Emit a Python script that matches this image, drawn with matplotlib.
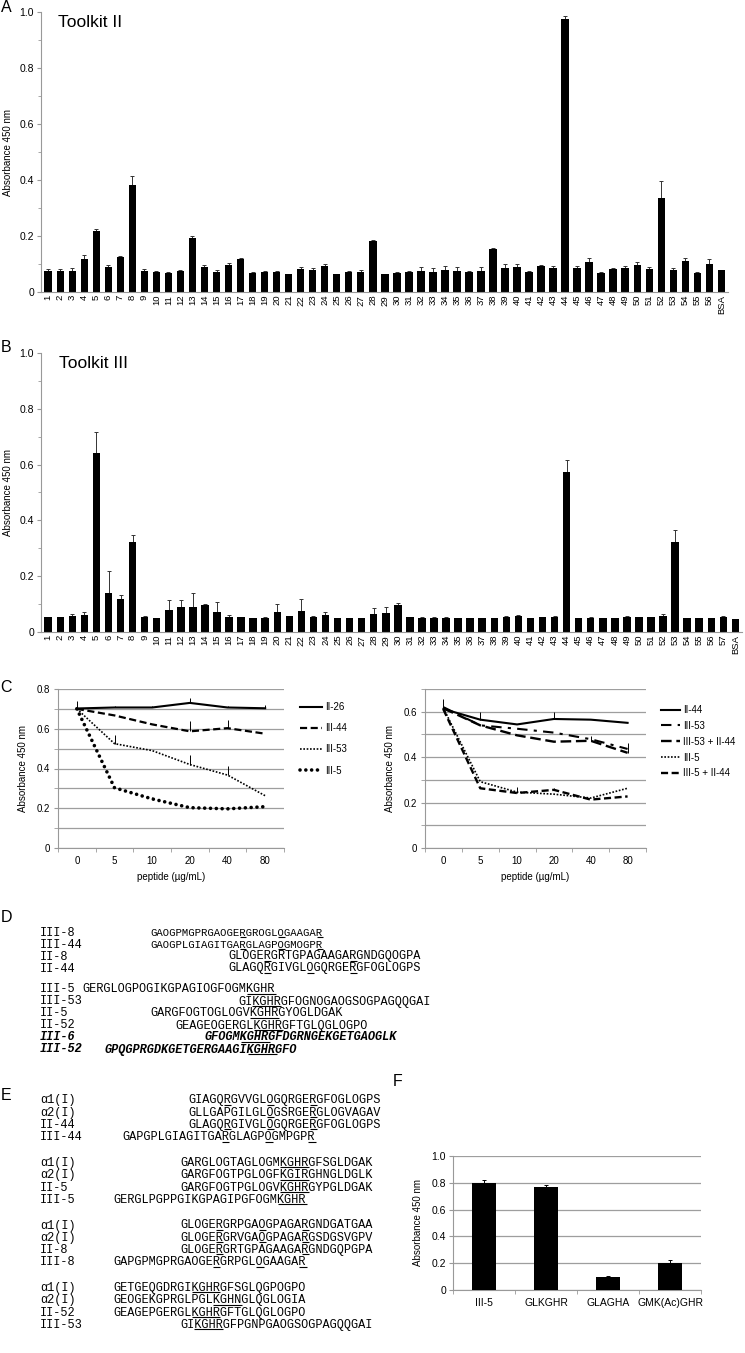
import matplotlib
matplotlib.use("Agg")
import matplotlib.pyplot as plt
import numpy as np
from matplotlib.ticker import FixedLocator

W, H = 745, 1353
plt.rcParams["font.family"] = ["Liberation Sans", "DejaVu Sans"]

# ---- panel A: Toolkit II screen ----
a_labels = [str(i) for i in range(1, 57)] + ["BSA"]
a_vals = [0.075, 0.076, 0.075, 0.119, 0.219, 0.088, 0.124, 0.383, 0.075, 0.073,
          0.069, 0.076, 0.192, 0.091, 0.070, 0.097, 0.117, 0.069, 0.072, 0.073,
          0.063, 0.083, 0.080, 0.093, 0.063, 0.073, 0.073, 0.181, 0.064, 0.068,
          0.073, 0.076, 0.073, 0.080, 0.076, 0.073, 0.076, 0.154, 0.086, 0.089,
          0.072, 0.094, 0.086, 0.976, 0.087, 0.106, 0.068, 0.083, 0.087, 0.095,
          0.083, 0.334, 0.080, 0.111, 0.068, 0.100, 0.077]
a_errs = [0.007, 0.005, 0.009, 0.012, 0.005, 0.007, 0.003, 0.030, 0.006, 0.003,
          0.002, 0.004, 0.007, 0.005, 0.007, 0.006, 0.006, 0.003, 0.004, 0.003,
          0.003, 0.008, 0.005, 0.006, 0.002, 0.003, 0.004, 0.003, 0.002, 0.002,
          0.003, 0.012, 0.011, 0.013, 0.014, 0.002, 0.012, 0.002, 0.015, 0.012,
          0.002, 0.002, 0.008, 0.010, 0.006, 0.017, 0.003, 0.004, 0.006, 0.013,
          0.007, 0.063, 0.005, 0.010, 0.002, 0.017, 0.0]

# ---- panel B: Toolkit III screen ----
b_labels = [str(i) for i in range(1, 58)] + ["BSA"]
b_vals = [0.052, 0.052, 0.056, 0.061, 0.643, 0.141, 0.118, 0.321, 0.052, 0.049,
          0.079, 0.089, 0.090, 0.095, 0.073, 0.054, 0.054, 0.050, 0.051, 0.070,
          0.056, 0.077, 0.054, 0.061, 0.050, 0.049, 0.050, 0.063, 0.068, 0.096,
          0.054, 0.051, 0.051, 0.051, 0.050, 0.049, 0.050, 0.050, 0.054, 0.059,
          0.050, 0.052, 0.055, 0.573, 0.050, 0.051, 0.050, 0.049, 0.054, 0.052,
          0.052, 0.059, 0.321, 0.050, 0.050, 0.049, 0.054, 0.048]
b_errs = [0.002, 0.002, 0.010, 0.011, 0.075, 0.077, 0.016, 0.026, 0.004, 0.001,
          0.037, 0.027, 0.050, 0.007, 0.036, 0.007, 0.001, 0.001, 0.001, 0.032,
          0.003, 0.040, 0.004, 0.011, 0.001, 0.001, 0.001, 0.024, 0.021, 0.009,
          0.001, 0.001, 0.001, 0.001, 0.001, 0.001, 0.001, 0.001, 0.002, 0.002,
          0.001, 0.001, 0.002, 0.043, 0.001, 0.001, 0.001, 0.001, 0.002, 0.001,
          0.001, 0.007, 0.044, 0.001, 0.001, 0.001, 0.002, 0.0]

# ---- panel C: inhibition curves ----
conc_labels = ["0", "5", "10", "20", "40", "80"]
c1_ii26 = [0.702, 0.707, 0.707, 0.730, 0.707, 0.703]
c1_ii26_err = [0.040, 0.005, 0.005, 0.025, 0.005, 0.015]
c1_iii44 = [0.700, 0.667, 0.622, 0.587, 0.603, 0.575]
c1_iii44_err = [0.0, 0.0, 0.0, 0.050, 0.040, 0.0]
c1_iii53 = [0.700, 0.525, 0.490, 0.420, 0.367, 0.263]
c1_iii53_err = [0.0, 0.042, 0.0, 0.047, 0.047, 0.0]
c1_iii5 = [0.700, 0.303, 0.247, 0.203, 0.197, 0.208]
c1_iii5_err = [0.0, 0.0, 0.012, 0.0, 0.010, 0.0]

c2_ii44 = [0.612, 0.565, 0.544, 0.568, 0.565, 0.551]
c2_ii44_err = [0.045, 0.035, 0.0, 0.030, 0.0, 0.0]
c2_iii53 = [0.620, 0.540, 0.525, 0.508, 0.479, 0.436]
c2_iii53_ii44 = [0.615, 0.540, 0.496, 0.468, 0.472, 0.419]
c2_iii53_ii44_err = [0.0, 0.0, 0.0, 0.0, 0.020, 0.045]
c2_iii5 = [0.615, 0.292, 0.246, 0.237, 0.220, 0.263]
c2_iii5_ii44 = [0.610, 0.263, 0.242, 0.256, 0.213, 0.227]
c2_iii5_ii44_err = [0.0, 0.0, 0.025, 0.010, 0.0, 0.0]

# ---- panel F: short peptides ----
f_labels = ["III-5", "GLKGHR", "GLAGHA", "GMK(Ac)GHR"]
f_vals = [0.80, 0.77, 0.095, 0.20]
f_errs = [0.020, 0.015, 0.012, 0.022]

# ---- panel D / E: sequence alignments (underlined residue indices) ----
d_names = ["III-8", "III-44", "II-8", "II-44",
           "III-5", "III-53", "II-5", "II-52", "III-6", "III-52"]
d_seqs = ["GAOGPMGPRGAOGERGROGLOGAAGAR", "GAOGPLGIAGITGARGLAGPOGMOGPR",
          "GLOGERGRTGPAGAAGARGNDGQOGPA", "GLAGQRGIVGLOGQRGERGFOGLOGPS",
          "GERGLOGPOGIKGPAGIOGFOGMKGHR", "GIKGHRGFOGNOGAOGSOGPAGQQGAI",
          "GARGFOGTOGLOGVKGHRGYOGLDGAK", "GEAGEOGERGLKGHRGFTGLQGLOGPO",
          "GFOGMKGHRGFDGRNGEKGETGAOGLK", "GPQGPRGDKGETGERGAAGIKGHRGFO"]
d_under = [[14, 20, 26], [14, 20, 26], [5, 17], [5, 11, 17],
           [23, 24, 25, 26], [2, 3, 4, 5], [14, 15, 16, 17], [11, 12, 13, 14],
           [5, 6, 7, 8], [20, 21, 22, 23]]

e_names = ["α1(I)", "α2(I)", "II-44", "III-44",
           "α1(I)", "α2(I)", "II-5", "III-5",
           "α1(I)", "α2(I)", "II-8", "III-8",
           "α1(I)", "α2(I)", "II-52", "III-53"]
e_seqs = ["GIAGQRGVVGLOGQRGERGFOGLOGPS", "GLLGAPGILGLOGSRGERGLOGVAGAV",
          "GLAGQRGIVGLOGQRGERGFOGLOGPS", "GAPGPLGIAGITGARGLAGPOGMPGPR",
          "GARGLOGTAGLOGMKGHRGFSGLDGAK", "GARGFOGTPGLOGFKGIRGHNGLDGLK",
          "GARGFOGTPGLOGVKGHRGYPGLDGAK", "GERGLPGPPGIKGPAGIPGFOGMKGHR",
          "GLOGERGRPGAOGPAGARGNDGATGAA", "GLOGERGRVGAOGPAGARGSDGSVGPV",
          "GLOGERGRTGPAGAAGARGNDGQPGPA", "GAPGPMGPRGAOGERGRPGLOGAAGAR",
          "GETGEQGDRGIKGHRGFSGLQGPOGPO", "GEOGEKGPRGLPGLKGHNGLQGLOGIA",
          "GEAGEPGERGLKGHRGFTGLQGLOGPO", "GIKGHRGFPGNPGAOGSOGPAGQQGAI"]
e_under = [[5, 11, 17], [11, 17], [5, 11, 17], [14, 20, 26],
           [14, 15, 16, 17], [14, 15, 16, 17], [14, 15, 16, 17], [23, 24, 25, 26],
           [5, 11, 17], [5, 11, 17], [5, 17], [14, 20, 26],
           [11, 12, 13, 14], [14, 15, 16, 17], [11, 12, 13, 14], [2, 3, 4, 5]]


def px_box(x0, y0, x1, y1):
    return [x0 / W, 1 - y1 / H, (x1 - x0) / W, (y1 - y0) / H]


def grey_spines(ax, keep=("left", "bottom")):
    for side, sp in ax.spines.items():
        if side in keep:
            sp.set_color("0.6")
            sp.set_linewidth(0.8)
        else:
            sp.set_visible(False)


def toolkit_panel(ax, labels, vals, errs, title):
    x = np.arange(len(vals))
    ax.bar(x, vals, width=0.62, color="black", zorder=2)
    ax.errorbar(x, vals, yerr=[np.zeros(len(errs)), errs], fmt="none",
                ecolor="0.2", elinewidth=0.7, capsize=1.2, capthick=0.7, zorder=1)
    ax.set_xlim(-0.6, len(vals) - 0.45)
    ax.set_ylim(0, 1.0)
    ax.set_yticks([0, 0.2, 0.4, 0.6, 0.8, 1.0])
    ax.set_yticklabels(["0", "0.2", "0.4", "0.6", "0.8", "1.0"])
    ax.yaxis.set_minor_locator(FixedLocator([0.1, 0.3, 0.5, 0.7, 0.9]))
    ax.set_xticks(x)
    ax.set_xticklabels(labels, rotation=90, fontsize=6.8)
    ax.tick_params(axis="x", length=0, pad=2)
    ax.tick_params(axis="y", which="major", length=3, color="0.6", labelsize=7.5, pad=2)
    ax.tick_params(axis="y", which="minor", length=2, color="0.6")
    ax.set_ylabel("Absorbance 450 nm", fontsize=7, labelpad=5)
    grey_spines(ax)
    ax.text(0.025, 0.962, title, transform=ax.transAxes, fontsize=12.5, va="center")


def curve_panel(ax, ymax):
    ax.set_xlim(-0.5, 5.5)
    ax.set_ylim(0, ymax)
    ax.set_yticks(np.arange(0, ymax + 0.01, 0.2))
    ax.set_yticklabels(["0" if v == 0 else f"{v:.1f}" for v in np.arange(0, ymax + 0.01, 0.2)])
    ax.set_yticks(np.arange(0, ymax + 0.01, 0.1), minor=True)
    ax.grid(axis="y", which="both", color="0.62", lw=0.9, zorder=0)
    ax.set_xticks(range(6))
    ax.set_xticklabels(conc_labels)
    ax.set_xticks(np.arange(-0.5, 6, 1.0), minor=True)
    ax.tick_params(axis="x", which="major", length=0, labelsize=7, pad=6)
    ax.tick_params(axis="x", which="minor", length=3, color="0.6")
    ax.tick_params(axis="y", which="both", length=3, color="0.6", labelsize=7, pad=3)
    ax.set_xlabel("peptide (µg/mL)", fontsize=7, labelpad=4)
    ax.set_ylabel("Absorbance 450 nm", fontsize=7, labelpad=6)
    grey_spines(ax)


def add_err(ax, vals, errs):
    ax.errorbar(range(6), vals, yerr=[np.zeros(6), errs], fmt="none",
                ecolor="black", elinewidth=0.7, capsize=0, zorder=4)


fig = plt.figure(figsize=(W / 100, H / 100), dpi=100)

# A
ax_a = fig.add_axes(px_box(41, 12, 728, 292))
toolkit_panel(ax_a, a_labels, a_vals, a_errs, "Toolkit II")

# B
ax_b = fig.add_axes(px_box(41, 353, 742, 632))
toolkit_panel(ax_b, b_labels, b_vals, b_errs, "Toolkit III")

# C left
xc = range(6)
ax_c1 = fig.add_axes(px_box(58, 689, 284, 848))
curve_panel(ax_c1, 0.8)
l1, = ax_c1.plot(xc, c1_ii26, color="black", lw=1.5, label="II-26", zorder=3)
l2, = ax_c1.plot(xc, c1_iii44, color="black", lw=1.6, ls=(0, (3.2, 1.6)), label="III-44", zorder=3)
l3, = ax_c1.plot(xc, c1_iii53, color="black", lw=1.2, ls=(0, (1, 1)), label="III-53", zorder=3)
l4, = ax_c1.plot(xc, c1_iii5, color="black", lw=2.6, ls=(0, (0.01, 1.6)),
                 dash_capstyle="round", label="III-5", zorder=3)
for v, e in [(c1_ii26, c1_ii26_err), (c1_iii44, c1_iii44_err),
             (c1_iii53, c1_iii53_err), (c1_iii5, c1_iii5_err)]:
    add_err(ax_c1, v, e)
ax_c1.legend(handles=[l1, l2, l3, l4], loc="upper left", bbox_to_anchor=(300 / W, 1 - 702 / H),
             bbox_transform=fig.transFigure, frameon=False, fontsize=7, handlelength=2.3,
             handletextpad=0.3, labelspacing=1.15, borderpad=0, borderaxespad=0)

# C right
ax_c2 = fig.add_axes(px_box(425, 689, 646, 848))
curve_panel(ax_c2, 0.7)
m1, = ax_c2.plot(xc, c2_ii44, color="black", lw=1.5, label="II-44", zorder=3)
m2, = ax_c2.plot(xc, c2_iii53, color="black", lw=1.5, ls=(0, (5, 3, 1.5, 3)), label="III-53", zorder=3)
m3, = ax_c2.plot(xc, c2_iii53_ii44, color="black", lw=1.7, ls=(0, (4.5, 2)), label="III-53 + II-44", zorder=3)
m4, = ax_c2.plot(xc, c2_iii5, color="black", lw=1.2, ls=(0, (1, 1)), label="III-5", zorder=3)
m5, = ax_c2.plot(xc, c2_iii5_ii44, color="black", lw=1.7, ls=(0, (3, 1.5)), label="III-5 + II-44", zorder=3)
add_err(ax_c2, c2_ii44, c2_ii44_err)
add_err(ax_c2, c2_iii53_ii44, c2_iii53_ii44_err)
add_err(ax_c2, c2_iii5_ii44, c2_iii5_ii44_err)
ax_c2.legend(handles=[m1, m2, m3, m4, m5], loc="upper left", bbox_to_anchor=(661 / W, 1 - 705 / H),
             bbox_transform=fig.transFigure, frameon=False, fontsize=7, handlelength=2.0,
             handletextpad=0.3, labelspacing=0.6, borderpad=0, borderaxespad=0)

# F
ax_f = fig.add_axes(px_box(453, 1156, 701, 1290))
xf = np.arange(len(f_vals))
ax_f.bar(xf, f_vals, width=0.4, color="black", zorder=3)
ax_f.errorbar(xf, f_vals, yerr=[np.zeros(len(f_errs)), f_errs], fmt="none", ecolor="black",
              elinewidth=0.7, capsize=1.5, capthick=0.7, zorder=2)
ax_f.set_xlim(-0.5, 3.5)
ax_f.set_ylim(0, 1.0)
ax_f.set_yticks([0, 0.2, 0.4, 0.6, 0.8, 1.0])
ax_f.set_yticklabels(["0", "0.2", "0.4", "0.6", "0.8", "1.0"])
ax_f.grid(axis="y", color="0.62", lw=0.9, zorder=0)
ax_f.set_xticks(xf)
ax_f.set_xticklabels(f_labels)
ax_f.set_xticks(np.arange(-0.5, 4, 1.0), minor=True)
ax_f.tick_params(axis="x", which="major", length=0, labelsize=7.5, pad=6)
ax_f.tick_params(axis="x", which="minor", length=3, color="0.6")
ax_f.tick_params(axis="y", length=3, color="0.6", labelsize=7.5, pad=2)
ax_f.set_ylabel("Absorbance 450 nm", fontsize=7, labelpad=6)
grey_spines(ax_f)

# text overlay in pixel coordinates
ax_t = fig.add_axes([0, 0, 1, 1])
ax_t.set_xlim(0, W)
ax_t.set_ylim(H, 0)
ax_t.axis("off")

for letter, lx, ly in [("A", 6, 8), ("B", 6, 347), ("C", 6, 688), ("D", 6, 918),
                       ("E", 6, 1095), ("F", 398, 1082)]:
    ax_t.text(lx, ly, letter, fontsize=11.5, ha="center", va="center")

MONO = "Liberation Mono"


def seq_row(name, seq, under, name_x, seq_x, y, fs, italic=False):
    style = "italic" if italic else "normal"
    weight = "bold" if italic else "normal"
    # baseline alignment so the underline sits just under the letters
    ax_t.text(name_x, y + 3.5, name, family=MONO, fontsize=8.6, va="baseline",
              style=style, weight=weight)
    ax_t.text(seq_x, y + 3.5, seq, family=MONO, fontsize=fs, va="baseline",
              style=style, weight=weight)
    cw = 0.6 * fs * 100 / 72
    spans = []
    for i in under:
        if spans and spans[-1][1] == i - 1:
            spans[-1][1] = i
        else:
            spans.append([i, i])
    for s0, s1 in spans:
        ax_t.plot([seq_x + s0 * cw, seq_x + (s1 + 1) * cw], [y + 4.8, y + 4.8],
                  color="black", lw=0.8, solid_capstyle="butt")


# D layout
d_x = [150, 150, 228, 228, 82, 238, 150, 175, 205, 105]
d_y = [932, 944, 956, 968, 989, 1001, 1013, 1025, 1037, 1049]
d_fs = [7.7, 7.7, 8.6, 8.6, 8.6, 8.6, 8.6, 8.6, 8.6, 8.6]
for k in range(len(d_names)):
    seq_row(d_names[k], d_seqs[k], d_under[k], 40, d_x[k], d_y[k], d_fs[k], italic=k >= 8)

# E layout
e_x = [188, 188, 188, 122, 180, 180, 180, 113, 180, 180, 180, 113, 113, 113, 113, 180]
for k in range(len(e_names)):
    g, r = divmod(k, 4)
    y = 1100 + g * 62.5 + r * 12.3
    seq_row(e_names[k], e_seqs[k], e_under[k], 40, e_x[k], y, 8.6)

fig.savefig("out.png", dpi=100)
